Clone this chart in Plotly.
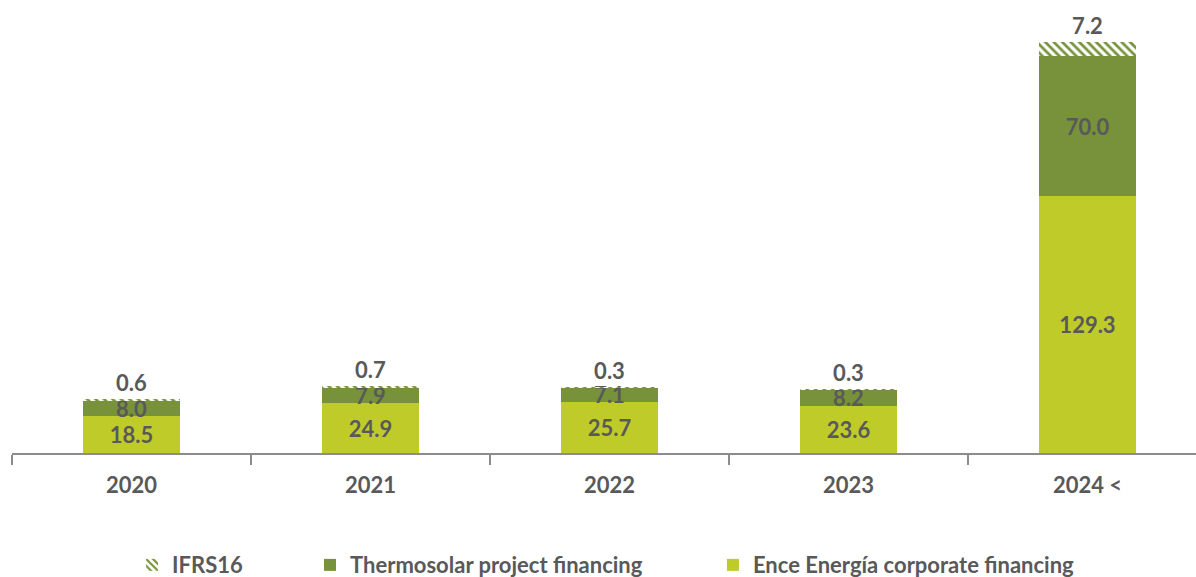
import plotly.graph_objects as go

categories = ["2020", "2021", "2022", "2023", "2024 <"]
ence_corporate = [18.5, 24.9, 25.7, 23.6, 129.3]
thermosolar = [8.0, 7.9, 7.1, 8.2, 70.0]
ifrs16 = [0.6, 0.7, 0.3, 0.3, 7.2]

LIGHT = "#BFCB29"
DARK = "#77923A"
TXT = "#595959"
FONT = "Lato"

lblfont = dict(family=FONT, size=22, color=TXT, weight="bold")

fig = go.Figure()
fig.add_trace(go.Bar(
    x=categories, y=ence_corporate, name="Ence Energía corporate financing",
    marker=dict(color=LIGHT, line=dict(width=0)),
    text=[f"{v:.1f}" for v in ence_corporate], textposition="inside",
    insidetextanchor="middle", textangle=0, constraintext="none",
    textfont=lblfont, legend="legend3", showlegend=True,
))
fig.add_trace(go.Bar(
    x=categories, y=thermosolar, name="Thermosolar project financing",
    marker=dict(color=DARK, line=dict(width=0)),
    text=[f"{v:.1f}" for v in thermosolar], textposition="inside",
    insidetextanchor="middle", textangle=0, constraintext="none",
    textfont=lblfont, legend="legend2", showlegend=True,
))
fig.add_trace(go.Bar(
    x=categories, y=ifrs16, name="IFRS16",
    marker=dict(color="#FFFFFF", line=dict(width=0),
                pattern=dict(shape="\\", fgcolor=DARK, bgcolor="#FFFFFF",
                             size=6, solidity=0.45, fillmode="replace")),
    text=[f"{v:.1f}" for v in ifrs16], textposition="outside",
    textangle=0, constraintext="none", cliponaxis=False,
    textfont=lblfont, legend="legend", showlegend=True,
))

legfont = dict(family=FONT, size=22, color=TXT, weight="bold")
fig.update_layout(
    barmode="stack",
    bargap=0.595,
    width=1196, height=577,
    showlegend=True,
    margin=dict(l=12, r=0, t=10, b=124, autoexpand=False),
    paper_bgcolor="white", plot_bgcolor="white",
    uniformtext=dict(mode=False),
    xaxis=dict(
        type="category", range=[-0.5, 4.454], automargin=False,
        showline=True, linecolor="#8C8C8C", linewidth=1.5,
        ticks="outside", tickson="boundaries", ticklen=10,
        tickcolor="#8C8C8C", tickwidth=1.5,
        tickfont=dict(family=FONT, size=22, color=TXT, weight="bold"),
        ticklabelstandoff=12,
        showgrid=False, zeroline=False,
    ),
    yaxis=dict(range=[0, 222.6], visible=False, showgrid=False,
               zeroline=False, automargin=False),
    legend=dict(x=0.1014, y=-0.253, xanchor="left", yanchor="middle",
                orientation="h", font=legfont, bgcolor="rgba(0,0,0,0)"),
    legend2=dict(x=0.2517, y=-0.253, xanchor="left", yanchor="middle",
                 orientation="h", font=legfont, bgcolor="rgba(0,0,0,0)"),
    legend3=dict(x=0.592, y=-0.253, xanchor="left", yanchor="middle",
                 orientation="h", font=legfont, bgcolor="rgba(0,0,0,0)"),
)

fig.write_html(
    "out.html",
    config={"displayModeBar": False},
    post_script="document.body.style.margin='0';document.body.style.overflow='hidden';",
)
